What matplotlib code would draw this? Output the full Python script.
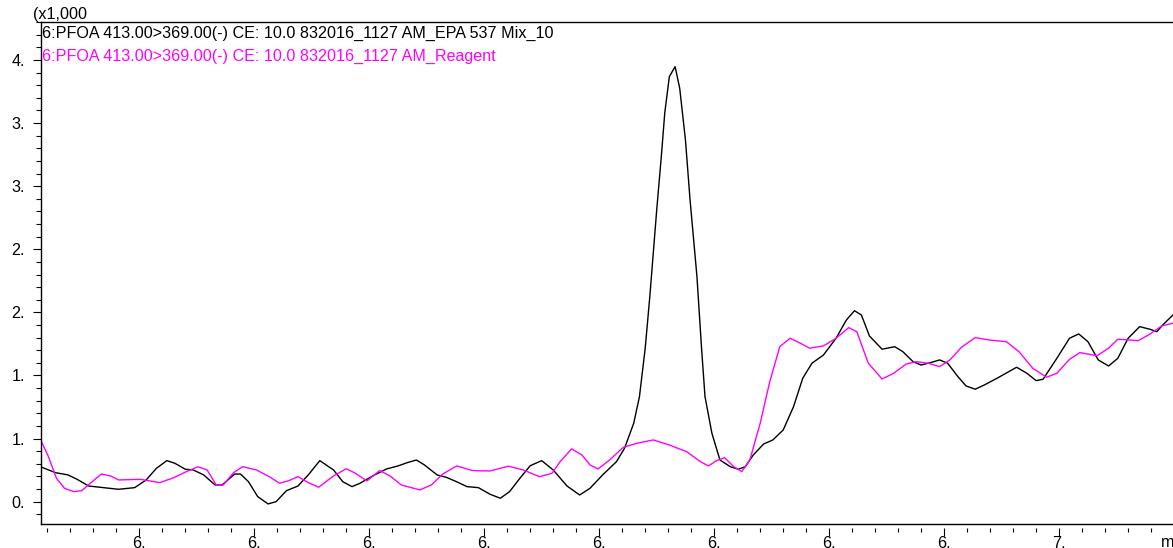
import numpy as np
import matplotlib.pyplot as plt
import matplotlib.transforms as mtransforms
from matplotlib.ticker import MultipleLocator, FuncFormatter

plt.rcParams['font.family'] = ['Liberation Sans', 'DejaVu Sans']

# retention time (min) and intensity (x1,000) - EPA 537 Mix_10
rt_mix = [5.614, 5.627, 5.638, 5.646, 5.656, 5.669, 5.682, 5.696, 5.706, 5.715,
          5.724, 5.731, 5.740, 5.747, 5.756, 5.766, 5.772, 5.783, 5.788, 5.795,
          5.803, 5.812, 5.819, 5.828, 5.838, 5.847, 5.857, 5.869, 5.877, 5.885,
          5.892, 5.903, 5.915, 5.925, 5.933, 5.941, 5.948, 5.959, 5.967, 5.976,
          5.985, 5.995, 6.005, 6.014, 6.022, 6.031, 6.040, 6.050, 6.060, 6.072,
          6.083, 6.092, 6.103, 6.115, 6.122, 6.130, 6.135, 6.140, 6.144, 6.150,
          6.154, 6.157, 6.161, 6.166, 6.170, 6.175, 6.179, 6.185, 6.189, 6.192,
          6.198, 6.205, 6.214, 6.221, 6.227, 6.234, 6.243, 6.251, 6.260, 6.269,
          6.277, 6.285, 6.295, 6.306, 6.315, 6.322, 6.328, 6.335, 6.346, 6.357,
          6.364, 6.373, 6.380, 6.388, 6.396, 6.403, 6.412, 6.419, 6.427, 6.435,
          6.446, 6.463, 6.472, 6.480, 6.486, 6.498, 6.509, 6.517, 6.525, 6.534,
          6.543, 6.551, 6.560, 6.570, 6.579, 6.585, 6.590, 6.599]
int_mix = [0.277, 0.230, 0.212, 0.177, 0.124, 0.111, 0.098, 0.111, 0.172, 0.265,
           0.325, 0.304, 0.257, 0.251, 0.212, 0.132, 0.132, 0.219, 0.219, 0.158,
           0.040, -0.018, 0.000, 0.087, 0.124, 0.212, 0.325, 0.251, 0.158, 0.119,
           0.146, 0.204, 0.259, 0.283, 0.309, 0.330, 0.291, 0.212, 0.193, 0.158,
           0.119, 0.111, 0.059, 0.027, 0.079, 0.185, 0.285, 0.325, 0.251, 0.124,
           0.053, 0.106, 0.212, 0.317, 0.423, 0.621, 0.832, 1.216, 1.624, 2.311,
           2.734, 3.080, 3.368, 3.447, 3.276, 2.866, 2.391, 1.783, 1.216, 0.832,
           0.542, 0.330, 0.277, 0.257, 0.277, 0.370, 0.457, 0.489, 0.568, 0.753,
           0.978, 1.097, 1.162, 1.295, 1.440, 1.513, 1.479, 1.313, 1.208, 1.228,
           1.189, 1.109, 1.083, 1.101, 1.123, 1.097, 0.990, 0.917, 0.891, 0.925,
           0.978, 1.065, 1.017, 0.959, 0.970, 1.136, 1.295, 1.329, 1.268, 1.123,
           1.075, 1.136, 1.295, 1.387, 1.366, 1.347, 1.400, 1.479]

# Reagent blank
rt_reagent = [5.614, 5.621, 5.628, 5.635, 5.643, 5.650, 5.659, 5.667, 5.675, 5.682,
              5.701, 5.708, 5.718, 5.730, 5.741, 5.751, 5.759, 5.767, 5.773, 5.782,
              5.790, 5.802, 5.814, 5.822, 5.830, 5.838, 5.847, 5.856, 5.869, 5.880,
              5.888, 5.898, 5.909, 5.918, 5.928, 5.944, 5.954, 5.964, 5.976, 5.990,
              6.005, 6.021, 6.034, 6.048, 6.059, 6.066, 6.076, 6.085, 6.092, 6.099,
              6.109, 6.121, 6.133, 6.147, 6.161, 6.176, 6.188, 6.195, 6.202, 6.209,
              6.217, 6.224, 6.231, 6.240, 6.248, 6.257, 6.266, 6.275, 6.283, 6.295,
              6.306, 6.317, 6.324, 6.334, 6.346, 6.356, 6.367, 6.376, 6.386, 6.396,
              6.405, 6.415, 6.427, 6.439, 6.454, 6.465, 6.477, 6.489, 6.498, 6.509,
              6.518, 6.533, 6.543, 6.551, 6.569, 6.580, 6.589, 6.599]
int_reagent = [0.494, 0.357, 0.185, 0.106, 0.079, 0.087, 0.158, 0.219, 0.204, 0.172,
               0.177, 0.166, 0.151, 0.190, 0.238, 0.277, 0.251, 0.132, 0.132, 0.230,
               0.277, 0.251, 0.193, 0.146, 0.166, 0.198, 0.151, 0.114, 0.204, 0.261,
               0.225, 0.164, 0.246, 0.204, 0.132, 0.093, 0.132, 0.219, 0.283, 0.246,
               0.243, 0.281, 0.251, 0.198, 0.225, 0.317, 0.418, 0.370, 0.291, 0.259,
               0.330, 0.431, 0.463, 0.489, 0.449, 0.396, 0.317, 0.283, 0.325, 0.349,
               0.277, 0.238, 0.330, 0.621, 0.938, 1.228, 1.295, 1.255, 1.216, 1.234,
               1.295, 1.379, 1.347, 1.097, 0.972, 1.017, 1.091, 1.109, 1.097, 1.070,
               1.123, 1.223, 1.300, 1.281, 1.268, 1.189, 1.057, 0.986, 1.017, 1.128,
               1.181, 1.157, 1.216, 1.287, 1.276, 1.334, 1.392, 1.414]

label_mix = "6:PFOA 413.00>369.00(-) CE: 10.0 832016_1127 AM_EPA 537 Mix_10"
label_reagent = "6:PFOA 413.00>369.00(-) CE: 10.0 832016_1127 AM_Reagent"

x_lim = (5.6148, 6.599)
y_lim = (-0.177, 3.801)
fs = 11.6


def trunc_label(v, pos):
    return f"{int(np.floor(v + 0.5 + 1e-9))}."


fig = plt.figure(figsize=(11.73, 5.48), dpi=100)
ax = fig.add_axes([0.0352, 0.0438, 0.9648, 0.9161])

ax.plot(rt_mix, int_mix, color="black", lw=1.0)
ax.plot(rt_reagent, int_reagent, color="#ff00ff", lw=1.0)

ax.set_xlim(*x_lim)
ax.set_ylim(*y_lim)

ax.xaxis.set_major_locator(MultipleLocator(0.1))
ax.xaxis.set_minor_locator(MultipleLocator(0.02))
ax.yaxis.set_major_locator(MultipleLocator(0.5))
ax.yaxis.set_minor_locator(MultipleLocator(0.1))
ax.xaxis.set_major_formatter(FuncFormatter(trunc_label))
ax.yaxis.set_major_formatter(FuncFormatter(trunc_label))

ax.tick_params(axis="both", which="both", direction="out", width=0.8,
               colors="black", labelsize=fs)
ax.tick_params(axis="y", which="major", length=5.8, pad=6.0)
ax.tick_params(axis="y", which="minor", length=3.6)
ax.tick_params(axis="x", which="major", length=5.5, pad=0.0)
ax.tick_params(axis="x", which="minor", length=2.9)

# x labels sit slightly left of and a bit closer to their ticks
shift = mtransforms.ScaledTranslation(-4 / 100, 2 / 100, fig.dpi_scale_trans)
for lbl in ax.get_xticklabels():
    lbl.set_transform(lbl.get_transform() + shift)

ax.spines["right"].set_visible(False)
ax.spines["top"].set_linewidth(1.0)
ax.spines["left"].set_linewidth(1.0)
# x ticks sit a little below the baseline of the plot
ax.spines["bottom"].set_position(("outward", 3))
ax.spines["bottom"].set_visible(False)
ax.axhline(y_lim[0], color="black", lw=1.0, clip_on=False)

fig.text(33 / 1173, 1 - 19.5 / 548, "(x1,000", fontsize=fs, va="baseline")
fig.text(41.5 / 1173, 1 - 37.7 / 548, label_mix, fontsize=fs,
         color="black", va="baseline")
fig.text(41.5 / 1173, 1 - 61 / 548, label_reagent, fontsize=fs,
         color="#ff00ff", va="baseline")
fig.text(1161 / 1173, 1 - 547 / 548, "min", fontsize=fs, va="baseline")

fig.savefig("out.png", dpi=100)
plt.close(fig)
